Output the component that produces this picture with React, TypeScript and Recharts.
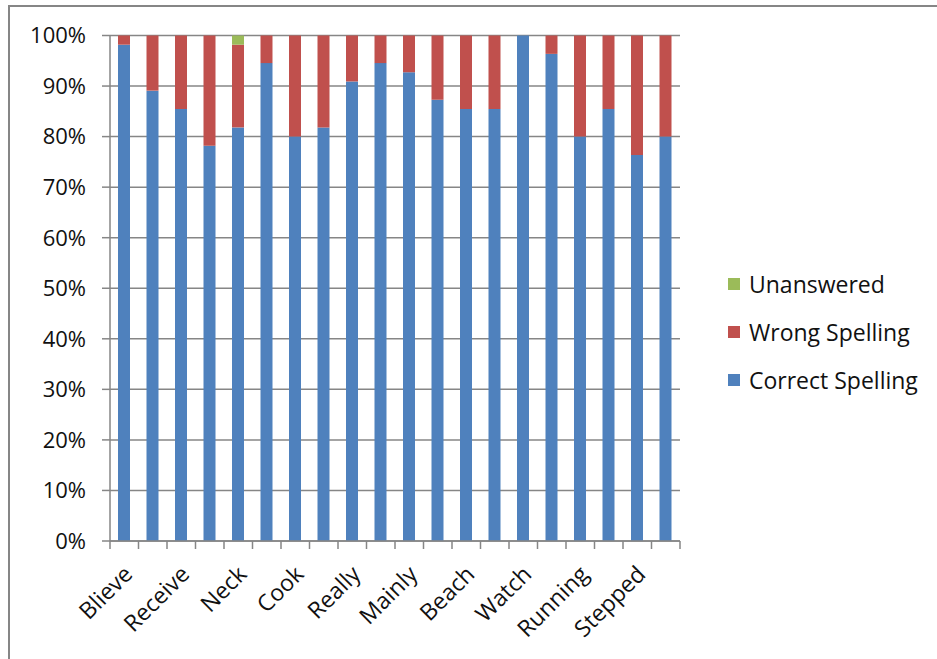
import React from 'react';
import { BarChart, Bar, XAxis, YAxis, CartesianGrid, Legend } from 'recharts';

// Category words (Excel shows every second label)
const WORDS = [
  'Blieve', 'Word 2', 'Receive', 'Word 4', 'Neck', 'Word 6', 'Cook', 'Word 8',
  'Really', 'Word 10', 'Mainly', 'Word 12', 'Beach', 'Word 14', 'Watch', 'Word 16',
  'Running', 'Word 18', 'Stepped', 'Word 20',
];
// Counts of pupils (out of 55)
const CORRECT = [54, 49, 47, 43, 45, 52, 44, 45, 50, 52, 51, 48, 47, 47, 55, 53, 44, 47, 42, 44];
const WRONG = [1, 6, 8, 12, 9, 3, 11, 10, 5, 3, 4, 7, 8, 8, 0, 2, 11, 8, 13, 11];
const UNANSWERED = [0, 0, 0, 0, 1, 0, 0, 0, 0, 0, 0, 0, 0, 0, 0, 0, 0, 0, 0, 0];
const Y_TICKS = [0, 0.1, 0.2, 0.3, 0.4, 0.5, 0.6, 0.7, 0.8, 0.9, 1];

const SERIES = [
  { key: 'correct', name: 'Correct Spelling', color: '#4F81BD' },
  { key: 'wrong', name: 'Wrong Spelling', color: '#C0504D' },
  { key: 'unanswered', name: 'Unanswered', color: '#9BBB59' },
];

const data = WORDS.map((w, i) => ({
  word: w,
  correct: CORRECT[i],
  wrong: WRONG[i],
  unanswered: UNANSWERED[i],
}));

const W = 937;
const H = 659;
const FONT = '"Open Sans", sans-serif';
const GRAY = '#868686';
const PLOT_LEFT = 110;
const PLOT_RIGHT = 680;
const PLOT_TOP = 35.5;
const PLOT_BOTTOM = 541;
const LEGEND_W = 200;

const XTick = (props: any) => {
  const { x, payload, index } = props;
  const band = (PLOT_RIGHT - PLOT_LEFT) / WORDS.length;
  const ax = x + 4;
  const ay = PLOT_BOTTOM + 29;
  return (
    <g>
      <line x1={x - band / 2} x2={x - band / 2} y1={PLOT_BOTTOM} y2={PLOT_BOTTOM + 8} stroke={GRAY} strokeWidth={1.5} />
      {index === WORDS.length - 1 && (
        <line x1={x + band / 2} x2={x + band / 2} y1={PLOT_BOTTOM} y2={PLOT_BOTTOM + 8} stroke={GRAY} strokeWidth={1.5} />
      )}
      {index % 2 === 0 && (
        <text
          x={ax}
          y={ay}
          dy="0.35em"
          textAnchor="end"
          transform={`rotate(-45, ${ax}, ${ay})`}
          fontFamily={FONT}
          fontSize={23}
          fill="#111"
        >
          {payload.value}
        </text>
      )}
    </g>
  );
};

const LegendContent = () => (
  <div style={{ width: LEGEND_W, fontFamily: FONT, fontSize: 23, color: '#111' }}>
    {[...SERIES].reverse().map((s) => (
      <div key={s.key} style={{ display: 'flex', alignItems: 'center', height: 48 }}>
        <span style={{ display: 'inline-block', width: 12, height: 12, background: s.color, marginRight: 9 }} />
        <span style={{ whiteSpace: 'nowrap' }}>{s.name}</span>
      </div>
    ))}
  </div>
);

export default function App() {
  return (
    <div style={{ position: 'absolute', left: 0, top: 0, width: W, height: H, overflow: 'hidden', background: '#fff' }}>
      <div
        style={{
          position: 'absolute',
          left: 8,
          top: 5,
          width: 2000,
          height: 2000,
          borderTop: `2px solid ${GRAY}`,
          borderLeft: `2px solid ${GRAY}`,
        }}
      />
      <div style={{ position: 'absolute', left: 0, top: 0 }}>
        <BarChart
          width={W}
          height={H}
          data={data}
          stackOffset="expand"
          barSize={12}
          margin={{ top: PLOT_TOP, right: W - PLOT_RIGHT - LEGEND_W, bottom: 0, left: 0 }}
        >
          <CartesianGrid vertical={false} stroke={GRAY} strokeWidth={1.5} />
          <XAxis
            dataKey="word"
            interval={0}
            height={H - PLOT_BOTTOM}
            tick={<XTick />}
            tickLine={false}
            axisLine={{ stroke: GRAY, strokeWidth: 1.5 }}
          />
          <YAxis
            width={PLOT_LEFT}
            domain={[0, 1]}
            ticks={Y_TICKS}
            interval={0}
            tickFormatter={(v: number) => `${Math.round(v * 100)}%`}
            tickSize={8}
            tickMargin={16}
            tick={{ fontFamily: FONT, fontSize: 22, fill: '#111' }}
            tickLine={{ stroke: GRAY, strokeWidth: 1.5 }}
            axisLine={{ stroke: GRAY, strokeWidth: 1.5 }}
          />
          <Legend
            layout="vertical"
            align="right"
            verticalAlign="middle"
            content={<LegendContent />}
            wrapperStyle={{ left: 728, top: 260, width: LEGEND_W }}
          />
          {SERIES.map((s) => (
            <Bar key={s.key} dataKey={s.key} name={s.name} stackId="a" fill={s.color} isAnimationActive={false} />
          ))}
        </BarChart>
      </div>
    </div>
  );
}
